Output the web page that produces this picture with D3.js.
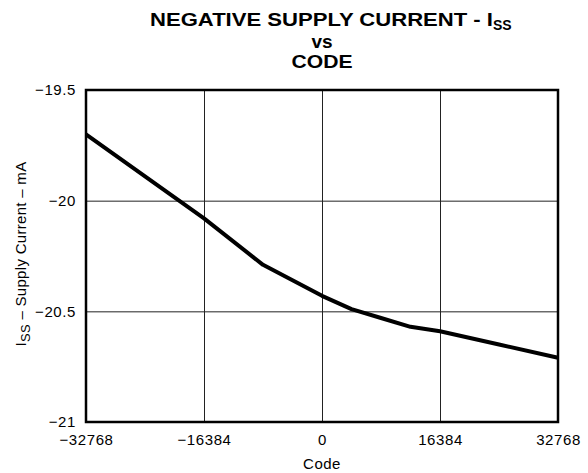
<!DOCTYPE html>
<html>
<head>
<meta charset="utf-8">
<script src="https://cdn.jsdelivr.net/npm/d3@7"></script>
<style>
  body { margin: 0; background: #fff; }
  text { font-family: "Liberation Sans", Arial, sans-serif; fill: #000; }
</style>
</head>
<body>
<script>
// data
var codes = [-32768, -24576, -16384, -8192, 0, 4096, 8192, 12288, 16384, 24576, 32768];
var current = [-19.70, -19.89, -20.08, -20.29, -20.43, -20.49, -20.53, -20.57, -20.59, -20.65, -20.71];
var xTicks = [-32768, -16384, 0, 16384, 32768];
var yTicks = [-19.5, -20, -20.5, -21];

var svgWidth = 588, svgHeight = 473,
    margin = { top: 90, right: 30, bottom: 51, left: 86 },
    chartWidth = svgWidth - margin.left - margin.right,
    chartHeight = svgHeight - margin.top - margin.bottom;

var x = d3.scaleLinear().domain([-32768, 32768]).range([0, chartWidth]);
var y = d3.scaleLinear().domain([-21, -19.5]).range([chartHeight, 0]);

var svg = d3.select('body').append('svg')
    .attr('width', svgWidth)
    .attr('height', svgHeight);

var g = svg.append('g')
    .attr('transform', 'translate(' + margin.left + ',' + margin.top + ')');

function fmt(d) {
    return String(d).replace('-', '\u2212');
}

// grid + tick labels
var xAxis = d3.axisBottom(x).tickValues(xTicks).tickSizeInner(-chartHeight).tickSizeOuter(0).tickPadding(12).tickFormat(fmt);
var yAxis = d3.axisLeft(y).tickValues(yTicks).tickSizeInner(-chartWidth).tickSizeOuter(0).tickPadding(10).tickFormat(fmt);

var gx = g.append('g')
    .attr('transform', 'translate(0,' + chartHeight + ')')
    .call(xAxis);
var gy = g.append('g').call(yAxis);
[gx, gy].forEach(function (a) {
    a.select('.domain').remove();
    a.selectAll('line').attr('stroke', '#222').attr('stroke-width', 1);
    a.selectAll('text').attr('font-size', 15).attr('fill', '#000')
        .attr('letter-spacing', 0.6)
        .style('font-family', '"Liberation Sans", Arial, sans-serif');
});

// frame
g.append('rect')
    .attr('width', chartWidth)
    .attr('height', chartHeight)
    .attr('fill', 'none')
    .attr('stroke', '#000')
    .attr('stroke-width', 2.5);

// curve
var line = d3.line()
    .x(function (d, i) { return x(codes[i]); })
    .y(function (d) { return y(d); });
g.append('path')
    .datum(current)
    .attr('d', line)
    .attr('fill', 'none')
    .attr('stroke', '#000')
    .attr('stroke-width', 4)
    .attr('stroke-linejoin', 'round');

// title
var cx = margin.left + chartWidth / 2;
var t1 = svg.append('text')
    .attr('x', 150).attr('y', 26)
    .attr('font-size', 19).attr('font-weight', 'bold');
t1.append('tspan').attr('textLength', 343).attr('lengthAdjust', 'spacingAndGlyphs')
    .text('NEGATIVE SUPPLY CURRENT - I');
t1.append('tspan').attr('font-size', 14).attr('dy', 4).text('SS');
svg.append('text')
    .attr('x', cx).attr('y', 48)
    .attr('text-anchor', 'middle')
    .attr('font-size', 19).attr('font-weight', 'bold')
    .text('vs');
svg.append('text')
    .attr('x', cx).attr('y', 68)
    .attr('text-anchor', 'middle')
    .attr('font-size', 19).attr('font-weight', 'bold')
    .attr('textLength', 61).attr('lengthAdjust', 'spacingAndGlyphs')
    .text('CODE');

// axis titles
svg.append('text')
    .attr('x', cx).attr('y', 469)
    .attr('text-anchor', 'middle')
    .attr('font-size', 15)
    .attr('letter-spacing', 0.5)
    .text('Code');
var yl = svg.append('text')
    .attr('transform', 'translate(26,' + (margin.top + chartHeight / 2 - 2) + ') rotate(-90)')
    .attr('text-anchor', 'middle')
    .attr('font-size', 15)
    .attr('letter-spacing', 0.3);
yl.append('tspan').text('I');
yl.append('tspan').attr('dy', 4).attr('font-size', 13).text('SS');
yl.append('tspan').attr('dy', -4).text(' \u2013 Supply Current \u2013 mA');
</script>
</body>
</html>
